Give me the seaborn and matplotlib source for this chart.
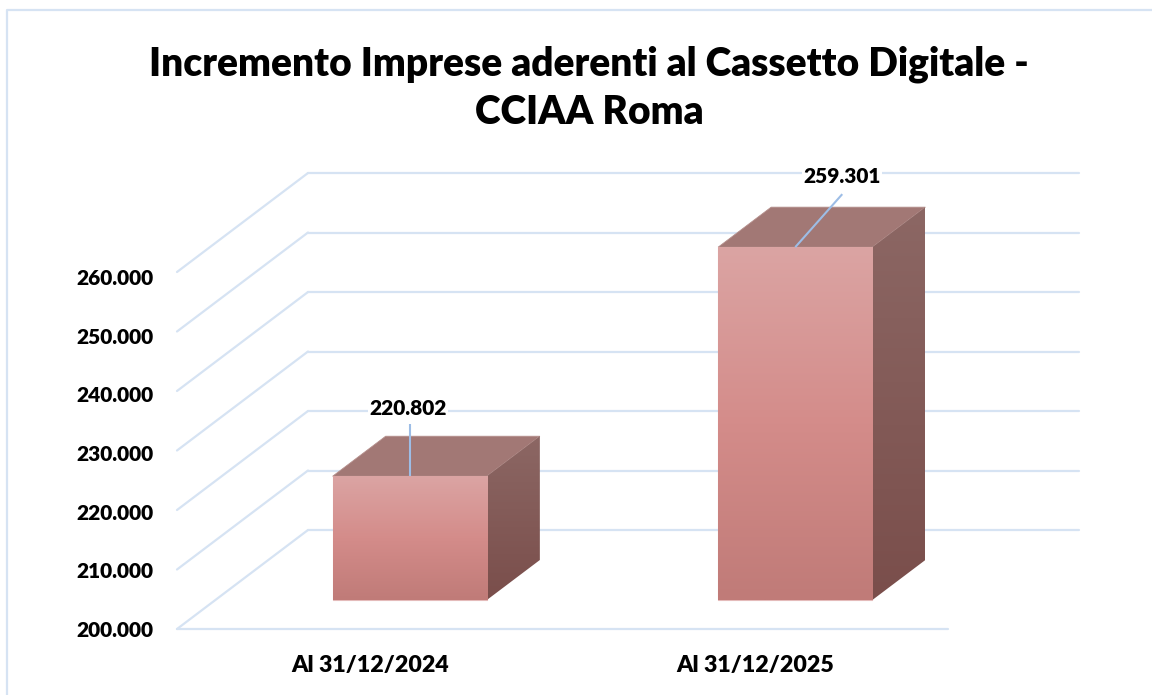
import numpy as np
import pandas as pd
import matplotlib
matplotlib.use("Agg")
import matplotlib.pyplot as plt
from matplotlib.colors import LinearSegmentedColormap
from matplotlib.lines import Line2D
from matplotlib.patches import Polygon
from matplotlib.ticker import FuncFormatter
from matplotlib.transforms import ScaledTranslation
import seaborn as sns

title = "Incremento Imprese aderenti al Cassetto Digitale -\nCCIAA Roma"
categories = ["Al 31/12/2024", "Al 31/12/2025"]
values = [220802, 259301]
value_labels = ["220.802", "259.301"]
y_ticks = [200000, 210000, 220000, 230000, 240000, 250000, 260000]

W, H = 1152, 695
GRID = "#D6E3F3"
LEADER = "#9DBDE6"
WEIGHT = 800

sns.set_theme(style="white")
plt.rcParams["font.family"] = ["Lato", "DejaVu Sans"]

fig = plt.figure(figsize=(W / 100, H / 100), dpi=100, facecolor="white")


def rect(x0, x1, ytop, ybot):
    return [x0 / W, 1 - ybot / H, (x1 - x0) / W, (ybot - ytop) / H]


L, R, T, B = 177, 948, 272, 629
ax = fig.add_axes(rect(L, R, T, B))
ax.set_facecolor("none")
ax.set_xlim(-0.5, 1.5)
ax.set_ylim(y_ticks[0], y_ticks[-1])
for s in ax.spines.values():
    s.set_visible(False)

px_x = 2 / (R - L)
px_y = (y_ticks[-1] - y_ticks[0]) / (B - T)
wall_dx, wall_dy = 131 * px_x, 99 * px_y

ax.plot([-0.5, 1.5], [y_ticks[0]] * 2, color=GRID, lw=1.6, clip_on=False)
for v in y_ticks:
    ax.plot([-0.5, -0.5 + wall_dx], [v, v + wall_dy], color=GRID, lw=1.6, clip_on=False)
    ax.plot([-0.5 + wall_dx, 1.5 + wall_dx], [v + wall_dy] * 2, color=GRID, lw=1.6, clip_on=False)

ax.set_yticks(y_ticks)
ax.yaxis.set_major_formatter(FuncFormatter(lambda v, _: f"{int(v):,}".replace(",", ".")))
ax.set_xticks([0, 1])
ax.set_xticklabels(categories)
ax.tick_params(axis="y", length=0, pad=17, labelsize=15, labelcolor="black")
ax.tick_params(axis="x", length=0, pad=19, labelsize=16.7, labelcolor="black")
for t in ax.get_xticklabels():
    t.set_fontweight(WEIGHT)
for t, v in zip(ax.get_yticklabels(), y_ticks):
    t.set_fontweight(WEIGHT)
    # the reference labels drift a few pixels below their gridline ends
    shift = -5 * (v - y_ticks[0]) / (y_ticks[-1] - y_ticks[0])
    t.set_transform(t.get_transform() + ScaledTranslation(0, shift / 100, fig.dpi_scale_trans))

bx = fig.add_axes(rect(L + 40, R + 40, T - 29, B - 29))
bx.set_facecolor("none")
df = pd.DataFrame({"periodo": categories, "imprese": values})
sns.barplot(data=df, x="periodo", y="imprese", ax=bx, width=0.4, color="#D48C8A", saturation=1)
bx.set_xlim(-0.5, 1.5)
bx.set_ylim(y_ticks[0], y_ticks[-1])
bx.axis("off")

front_cm = LinearSegmentedColormap.from_list("f", ["#DBA4A3", "#D48C8A", "#C07B78"])
side_cm = LinearSegmentedColormap.from_list("s", ["#8C6764", "#7A4E4B"])
grad = np.linspace(0, 1, 128).reshape(-1, 1)
depth_x, depth_y = 53 * px_x, 40 * px_y

for bar, v in zip(bx.patches, values):
    x0, x1 = bar.get_x(), bar.get_x() + bar.get_width()
    y0 = y_ticks[0]
    bar.set_y(y0)
    bar.set_height(v - y0)
    bar.set_edgecolor("#E4BBBA")
    bar.set_linewidth(0.8)
    bar.set_clip_on(False)

    top = Polygon([(x0, v), (x1, v), (x1 + depth_x, v + depth_y), (x0 + depth_x, v + depth_y)],
                  closed=True, facecolor="#A27875", edgecolor="#B58F8C", lw=0.6, clip_on=False, zorder=3)
    bx.add_patch(top)
    side = Polygon([(x1, y0), (x1, v), (x1 + depth_x, v + depth_y), (x1 + depth_x, y0 + depth_y)],
                   closed=True, facecolor="none", edgecolor="none", clip_on=False, zorder=3)
    bx.add_patch(side)

    im = bx.imshow(grad, cmap=side_cm, extent=(x1, x1 + depth_x, y0, v + depth_y),
                   aspect="auto", origin="upper", zorder=4)
    im.set_clip_box(fig.bbox)
    im.set_clip_path(side)
    im2 = bx.imshow(grad, cmap=front_cm, extent=(x0, x1, y0, v),
                    aspect="auto", origin="upper", zorder=4)
    im2.set_clip_box(fig.bbox)
    im2.set_clip_path(bar)

bx.set_xlim(-0.5, 1.5)
bx.set_ylim(y_ticks[0], y_ticks[-1])

leader_off = [(0, 52), (47, 53)]
label_off = [(-2, 68), (47, 71)]
for bar, v, lab, lo, to in zip(bx.patches, values, value_labels, leader_off, label_off):
    xc = bar.get_x() + bar.get_width() / 2
    bx.plot([xc, xc + lo[0] * px_x], [v, v + lo[1] * px_y], color=LEADER, lw=1.5,
            clip_on=False, zorder=6, solid_capstyle="butt")
    bx.text(xc + to[0] * px_x, v + to[1] * px_y, lab, ha="center", va="center",
            fontsize=15, fontweight=WEIGHT, color="black", zorder=7, clip_on=False,
            bbox=dict(facecolor="white", edgecolor="none", pad=1))

fig.text(589 / W, 1 - 88 / H, title, ha="center", va="center", fontsize=28,
         fontweight=WEIGHT, color="black", linespacing=1.38)

fig.add_artist(Line2D([7 / W, 7 / W, 1], [0, 1 - 10 / H, 1 - 10 / H],
                      color=GRID, lw=1.6, transform=fig.transFigure))

fig.savefig("out.png", dpi=100, facecolor="white")
